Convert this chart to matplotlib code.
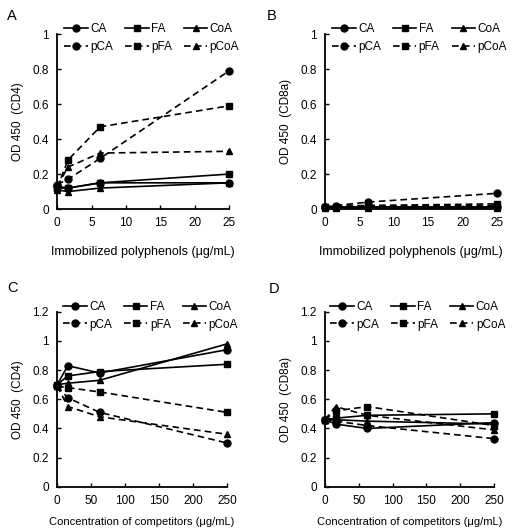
import matplotlib
matplotlib.use("Agg")
import matplotlib.pyplot as plt

plt.rcParams['font.family'] = ['Liberation Sans', 'DejaVu Sans']

# immobilized polyphenol concentrations (ug/mL) and competitor concentrations
conc_ab = [0, 1.5625, 6.25, 25]
conc_cd = [0, 15.625, 62.5, 250]

names = ["CA", "FA", "CoA", "pCA", "pFA", "pCoA"]

# panel A: OD450 (CD4)
a_vals = [
    [0.13, 0.12, 0.15, 0.15],
    [0.12, 0.12, 0.15, 0.20],
    [0.11, 0.10, 0.12, 0.15],
    [0.14, 0.17, 0.29, 0.79],
    [0.12, 0.28, 0.47, 0.59],
    [0.13, 0.24, 0.32, 0.33],
]
# panel B: OD450 (CD8a)
b_vals = [
    [0.01, 0.01, 0.01, 0.01],
    [0.01, 0.01, 0.01, 0.01],
    [0.005, 0.005, 0.005, 0.005],
    [0.01, 0.02, 0.04, 0.09],
    [0.01, 0.01, 0.02, 0.03],
    [0.01, 0.02, 0.02, 0.02],
]
# panel C: OD450 (CD4), competition
c_vals = [
    [0.70, 0.83, 0.78, 0.94],
    [0.70, 0.76, 0.79, 0.84],
    [0.70, 0.71, 0.73, 0.98],
    [0.69, 0.61, 0.51, 0.30],
    [0.69, 0.68, 0.65, 0.51],
    [0.69, 0.55, 0.48, 0.36],
]
# panel D: OD450 (CD8a), competition
d_vals = [
    [0.46, 0.43, 0.40, 0.44],
    [0.46, 0.47, 0.49, 0.50],
    [0.46, 0.46, 0.45, 0.43],
    [0.46, 0.45, 0.42, 0.33],
    [0.46, 0.52, 0.55, 0.42],
    [0.46, 0.55, 0.49, 0.39],
]

markers = ["o", "s", "^", "o", "s", "^"]
styles = ["-", "-", "-", "--", "--", "--"]


def draw_panel(ax, x, vals, xmax, xticks, ymax, yticks, ylabel, xlabel, xl_size, xl_pad):
    lines = []
    for i in range(6):
        ln, = ax.plot(x, vals[i], color="black", linestyle=styles[i], marker=markers[i],
                      markersize=5, linewidth=1.2,
                      dashes=(4, 2.5) if styles[i] == "--" else (None, None),
                      label=names[i], clip_on=False, zorder=3)
        lines.append(ln)
    ax.set_xlim(0, xmax)
    ax.set_ylim(0, ymax)
    ax.set_xticks(xticks)
    ax.set_yticks(yticks)
    ax.set_yticklabels([f"{t:g}" for t in yticks])
    ax.spines["top"].set_visible(False)
    ax.spines["right"].set_visible(False)
    ax.spines["left"].set_linewidth(1.3)
    ax.spines["bottom"].set_linewidth(1.3)
    ax.tick_params(direction="in", length=3, width=1, labelsize=8.5, pad=6)
    ax.set_ylabel(ylabel, fontsize=8.5, labelpad=6)
    ax.set_xlabel(xlabel, fontsize=xl_size, labelpad=xl_pad)
    # legend fills by column, so interleave to get rows CA FA CoA / pCA pFA pCoA
    order = [0, 3, 1, 4, 2, 5]
    ax.legend([lines[k] for k in order], [names[k] for k in order],
              ncol=3, loc="upper center", bbox_to_anchor=(0.55, 1.09), frameon=False,
              fontsize=8.5, handlelength=2.0, handletextpad=0.2, columnspacing=1.0,
              labelspacing=0.5, borderaxespad=0)


fig = plt.figure(figsize=(5.15, 5.32), dpi=100)

axA = fig.add_axes([0.111, 0.607, 0.334, 0.329])
axB = fig.add_axes([0.631, 0.607, 0.334, 0.329])
axC = fig.add_axes([0.111, 0.085, 0.330, 0.329])
axD = fig.add_axes([0.631, 0.085, 0.328, 0.329])

ticks_ab = [0, 5, 10, 15, 20, 25]
ticks_cd = [0, 50, 100, 150, 200, 250]
yt1 = [0, 0.2, 0.4, 0.6, 0.8, 1]
yt2 = [0, 0.2, 0.4, 0.6, 0.8, 1, 1.2]

draw_panel(axA, conc_ab, a_vals, 25, ticks_ab, 1, yt1, "OD 450  (CD4)",
           "Immobilized polyphenols (\u03bcg/mL)", 9, 12)
draw_panel(axB, conc_ab, b_vals, 25, ticks_ab, 1, yt1, "OD 450  (CD8a)",
           "Immobilized polyphenols (\u03bcg/mL)", 9, 12)
draw_panel(axC, conc_cd, c_vals, 250, ticks_cd, 1.2, yt2, "OD 450  (CD4)",
           "Concentration of competitors (\u03bcg/mL)", 8, 7)
draw_panel(axD, conc_cd, d_vals, 250, ticks_cd, 1.2, yt2, "OD 450  (CD8a)",
           "Concentration of competitors (\u03bcg/mL)", 8, 7)

fig.text(0.014, 0.963, "A", fontsize=10.5)
fig.text(0.518, 0.963, "B", fontsize=10.5)
fig.text(0.014, 0.452, "C", fontsize=10.5)
fig.text(0.522, 0.450, "D", fontsize=10.5)

fig.savefig("out.png", dpi=100)
